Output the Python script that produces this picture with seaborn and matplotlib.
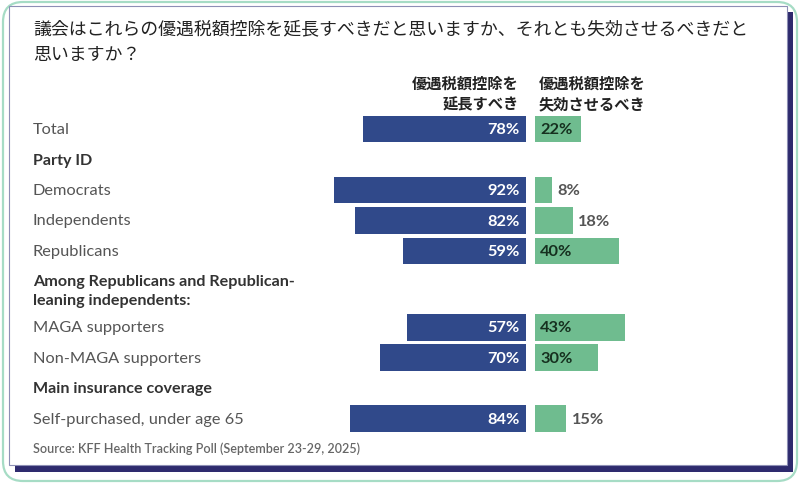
import matplotlib
matplotlib.use("Agg")
import matplotlib.pyplot as plt
from matplotlib.patches import FancyBboxPatch, Rectangle
from matplotlib.transforms import blended_transform_factory
import seaborn as sns
import pandas as pd

# --- data ---
groups = ["Total", "Democrats", "Independents", "Republicans",
          "MAGA supporters", "Non-MAGA supporters", "Self-purchased, under age 65"]
extend = [78, 92, 82, 59, 57, 70, 84]
expire = [22, 8, 18, 40, 43, 30, 15]
section_headers = ["Party ID",
                   "Among Republicans and Republican-\nleaning independents:",
                   "Main insurance coverage"]
title = "議会はこれらの優遇税額控除を延長すべきだと思いますか、それとも失効させるべきだと\n思いますか？"
col_extend = "優遇税額控除を\n延長すべき"
col_expire = "優遇税額控除を\n失効させるべき"
source = "Source: KFF Health Tracking Poll (September 23-29, 2025)"

# --- layout (row slots) ---
group_rows = [0, 2, 3, 4, 6.5, 7.5, 9.5]
header_rows = [1, 5.3, 8.5]

BLUE = "#30498a"
GREEN = "#6fbc8f"
W, H = 800, 485

sns.set_theme(style="white")
plt.rcParams["font.family"] = ["Lato", "Noto Sans CJK JP", "DejaVu Sans"]
JP = ["Noto Sans CJK JP", "DejaVu Sans"]

fig = plt.figure(figsize=(8, 4.85), dpi=100)
fig.patch.set_facecolor("white")

# background / frame axes in pixel coords
bg = fig.add_axes([0, 0, 1, 1])
bg.set_xlim(0, W)
bg.set_ylim(H, 0)
bg.axis("off")
bg.add_patch(FancyBboxPatch((3, 3), 794, 479, boxstyle="round,pad=0,rounding_size=20",
                            facecolor="white", edgecolor="#a6dcc5", linewidth=1.6))
bg.add_patch(Rectangle((15, 13), 778, 460, facecolor="#2e2b6e", edgecolor="none"))
bg.add_patch(Rectangle((9, 7), 778, 459, facecolor="white", edgecolor="#8d8fb5", linewidth=0.8))

bg.text(33, 42, title, family=JP, fontsize=12.9, color="#222222", va="center",
        linespacing=1.55)
bg.text(519, 94, col_extend, family=JP, fontsize=11, fontweight="bold", color="#222222",
        ha="right", va="center", linespacing=1.4)
bg.text(539, 94, col_expire, family=JP, fontsize=11, fontweight="bold", color="#222222",
        ha="left", va="center", linespacing=1.4)
bg.text(33, 449, source, fontsize=9.0, color="#666666", va="center", fontweight="semibold")

# bar axes
top_px, bot_px, row_px = 100, 450, 30.5
y0 = (top_px - 130) / row_px
y1 = (bot_px - 130) / row_px
scale = 2.09
ax_l = fig.add_axes([(526 - 100 * scale) / W, 1 - bot_px / H, 100 * scale / W, (bot_px - top_px) / H])
ax_r = fig.add_axes([535 / W, 1 - bot_px / H, 100 * scale / W, (bot_px - top_px) / H])

df = pd.DataFrame({"group": groups, "row": group_rows, "extend": extend, "expire": expire})

sns.barplot(data=df, x="extend", y="row", orient="h", native_scale=True, color=BLUE,
            saturation=1, width=0.88, errorbar=None, linewidth=0, ax=ax_l)
sns.barplot(data=df, x="expire", y="row", orient="h", native_scale=True, color=GREEN,
            saturation=1, width=0.88, errorbar=None, linewidth=0, ax=ax_r)

for ax in (ax_l, ax_r):
    ax.set_ylim(y1, y0)
    ax.axis("off")
    ax.patch.set_alpha(0)
ax_l.set_xlim(100, 0)
ax_r.set_xlim(0, 100)

for r, v in zip(group_rows, extend):
    ax_l.text(3, r, f"{v}%", color="white", fontsize=11.8, fontweight="bold",
              ha="right", va="center")
for r, v in zip(group_rows, expire):
    if v >= 20:
        ax_r.text(2.4, r, f"{v}%", color="#16301f", fontsize=11.8, fontweight="bold",
                  ha="left", va="center")
    else:
        ax_r.text(v + 2.6, r, f"{v}%", color="#555555", fontsize=11.8, fontweight="bold",
                  ha="left", va="center")

tr = blended_transform_factory(bg.transData, ax_l.transData)
for r, g in zip(group_rows, groups):
    ax_l.text(33, r, g, transform=tr, fontsize=11.8, color="#555555", va="center")
for r, h in zip(header_rows, section_headers):
    ax_l.text(33, r, h, transform=tr, fontsize=11.6, color="#333333", va="center",
              fontweight="bold", linespacing=1.4)

fig.savefig("out.png", dpi=100, facecolor="white")
